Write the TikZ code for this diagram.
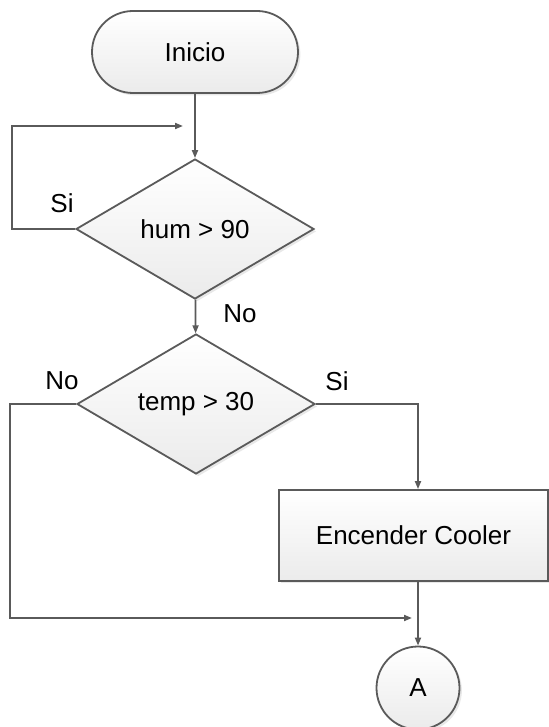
\documentclass[tikz,border=0pt]{standalone}
\usepackage{fontspec}
\setmainfont{Liberation Sans}
\usetikzlibrary{shapes.geometric,shadows,arrows.meta}

\definecolor{linegray}{HTML}{5A5A5A}
\definecolor{boxgray}{HTML}{EBEBEB}

\tikzset{
  flowbox/.style={draw=linegray, line width=0.9pt, top color=white, bottom color=boxgray,
    drop shadow={shadow xshift=1.2pt, shadow yshift=-1.2pt, opacity=0.18},
    font=\fontsize{13}{15}\selectfont},
  terminal/.style={flowbox, rectangle, rounded corners=20.5pt, minimum width=103pt, minimum height=41pt},
  decision/.style={flowbox, diamond, aspect=1.7, minimum width=119pt, minimum height=70pt, inner sep=0pt},
  process/.style={flowbox, rectangle, minimum width=134.5pt, minimum height=45.5pt},
  connector/.style={flowbox, circle, minimum size=41.5pt, inner sep=0pt},
  lbl/.style={font=\fontsize{13}{15}\selectfont},
  link/.style={->, draw=linegray, line width=0.9pt}
}

\begin{document}
\begin{tikzpicture}[x=0.5pt, y=-0.5pt, >={Triangle[length=4pt,width=3pt]}]
                \useasboundingbox (0,0) rectangle (549,727);

                \node[terminal] (inicio) at (195,52) {Inicio};
                \node[decision] (hum) at (195,229) {hum > 90};
                \node[decision] (temp) at (196,404) {temp > 30};
                \node[process] (cooler) at (413.5,535.5) {Encender Cooler};
                \node[connector] (A) at (418,688) {A};

                \node[lbl] (si1) at (62,203) {Si};
                \node[lbl] (no1) at (240,314) {No};
                \node[lbl] (no2) at (62,381) {No};
                \node[lbl] (si2) at (337,381) {Si};

                \coordinate (loopL) at (12,126); \coordinate (loopR) at (183,126);
                \coordinate (noL) at (10,618); \coordinate (noR) at (412,618);

                \draw[link] (inicio) to (hum);
                \draw[link] (hum.west) -| (loopL) -- (loopR);
                \draw[link] (hum) to (temp);
                \draw[link] (temp.east) -| (cooler.north -| A.north);
                \draw[link] (temp.west) -| (noL) -- (noR);
                \draw[link] (cooler.south -| A.north) -- (A.north);
            \end{tikzpicture}
\end{document}
